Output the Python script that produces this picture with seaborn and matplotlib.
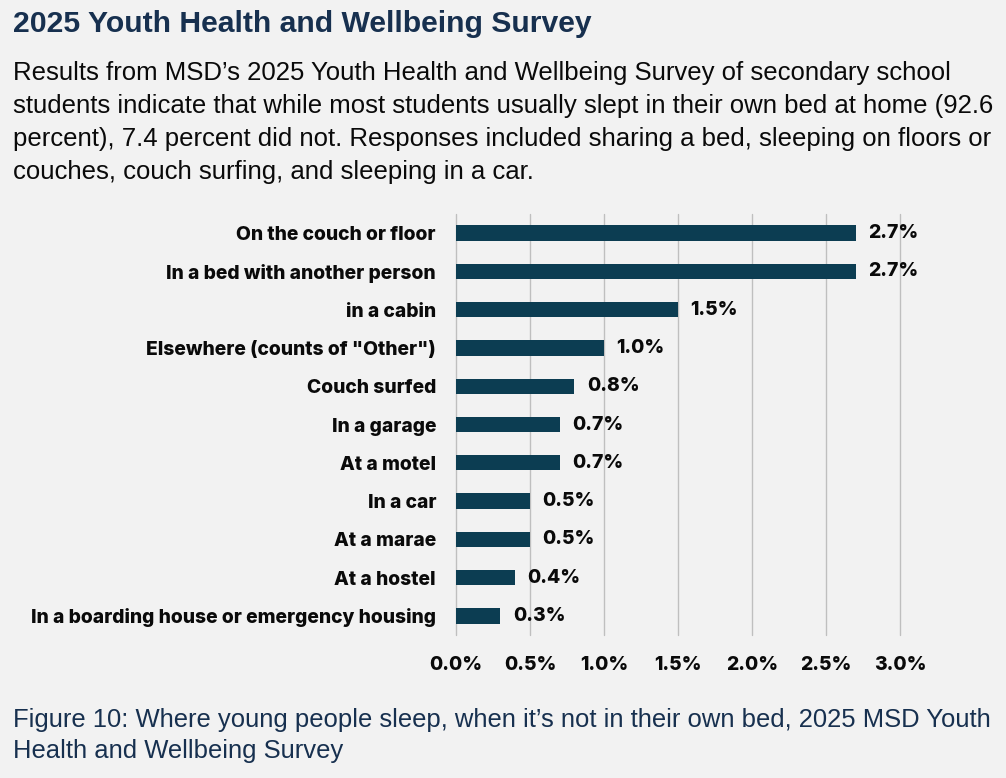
import matplotlib
matplotlib.use("Agg")
import matplotlib.pyplot as plt
import seaborn as sns
import pandas as pd
from matplotlib.ticker import FuncFormatter

categories = [
    "On the couch or floor",
    "In a bed with another person",
    "in a cabin",
    'Elsewhere (counts of "Other")',
    "Couch surfed",
    "In a garage",
    "At a motel",
    "In a car",
    "At a marae",
    "At a hostel",
    "In a boarding house or emergency housing",
]
values = [2.7, 2.7, 1.5, 1.0, 0.8, 0.7, 0.7, 0.5, 0.5, 0.4, 0.3]
xticks = [0.0, 0.5, 1.0, 1.5, 2.0, 2.5, 3.0]

title = "2025 Youth Health and Wellbeing Survey"
subtitle_lines = [
    "Results from MSD\u2019s 2025 Youth Health and Wellbeing Survey of secondary school",
    "students indicate that while most students usually slept in their own bed at home (92.6",
    "percent), 7.4 percent did not. Responses included sharing a bed, sleeping on floors or",
    "couches, couch surfing, and sleeping in a car.",
]
caption_lines = [
    "Figure 10: Where young people sleep, when it\u2019s not in their own bed, 2025 MSD Youth",
    "Health and Wellbeing Survey",
]

BG = "#f2f2f2"
BAR = "#0c3d52"
NAVY = "#17304f"
TXT = "#0a0a0a"
ARIAL = ["Liberation Sans", "DejaVu Sans"]
LABF = ["Inter", "Lato", "DejaVu Sans"]
LABW = 800

sns.set_theme(style="white")
plt.rcParams["font.family"] = LABF

df = pd.DataFrame({"cat": categories, "val": values})

fig = plt.figure(figsize=(10.06, 7.78), dpi=100, facecolor=BG)
renderer = fig.canvas.get_renderer()
W, H = 1006, 778


def width(t):
    return t.get_window_extent(renderer).width


def fit(t, target_px):
    t.set_fontsize(t.get_fontsize() * target_px / width(t))
    return t.get_fontsize()


# size the label font so the longest label matches the reference width
probe = fig.text(0, 0, categories[-1], family=LABF, fontweight=LABW, fontsize=14)
lab_size = fit(probe, 406)
probe.remove()

ax = fig.add_axes([456 / W, 1 - 635 / H, (900 - 456) / W, (635 - 214) / H])
ax.set_facecolor(BG)

sns.barplot(data=df, x="val", y="cat", orient="h", color=BAR, width=0.40,
            saturation=1, linewidth=0, ax=ax, zorder=3)

ax.set_xlim(0, 3.0)
ax.set_ylim(10.5, -0.5)
ax.set_xticks(xticks)
ax.xaxis.set_major_formatter(FuncFormatter(lambda v, p: f"{v:.1f}%"))
ax.grid(axis="x", color="#bfbfbf", linewidth=1.0, zorder=0)
ax.grid(axis="y", visible=False)
for gl in ax.get_xgridlines():
    gl.set_clip_on(False)
for s in ax.spines.values():
    s.set_visible(False)
ax.set_xlabel("")
ax.set_ylabel("")
ax.tick_params(axis="both", length=0)
ax.tick_params(axis="y", pad=14.4)
ax.tick_params(axis="x", pad=15)
for lab in ax.get_yticklabels() + ax.get_xticklabels():
    lab.set_fontweight(LABW)
    lab.set_fontsize(lab_size)
    lab.set_color(TXT)
    lab.set_family(LABF)

for i, v in enumerate(values):
    ax.annotate(f"{v:.1f}%", xy=(v, i), xytext=(9, 0), textcoords="offset points",
                va="center", ha="left", fontsize=lab_size, fontweight=LABW,
                color=TXT, family=LABF, zorder=5)

x0 = 13 / W
t = fig.text(x0, 1 - 32 / H, title, fontsize=20, fontweight="bold", color=NAVY,
             family=ARIAL, va="baseline", ha="left")
fit(t, 579)

sub_texts = []
for k, line in enumerate(subtitle_lines):
    sub_texts.append(fig.text(x0, 1 - (80 + 33 * k) / H, line, fontsize=17, color=TXT,
                              family=ARIAL, va="baseline", ha="left"))
widest = max(sub_texts, key=width)
s = fit(widest, 985)
for tt in sub_texts:
    tt.set_fontsize(s)

cap_texts = []
for k, line in enumerate(caption_lines):
    cap_texts.append(fig.text(x0, 1 - (727 + 31 * k) / H, line, fontsize=17, color=NAVY,
                              family=ARIAL, va="baseline", ha="left"))
c = fit(cap_texts[0], 982)
for tt in cap_texts:
    tt.set_fontsize(c)

fig.savefig("out.png", dpi=100, facecolor=BG)
